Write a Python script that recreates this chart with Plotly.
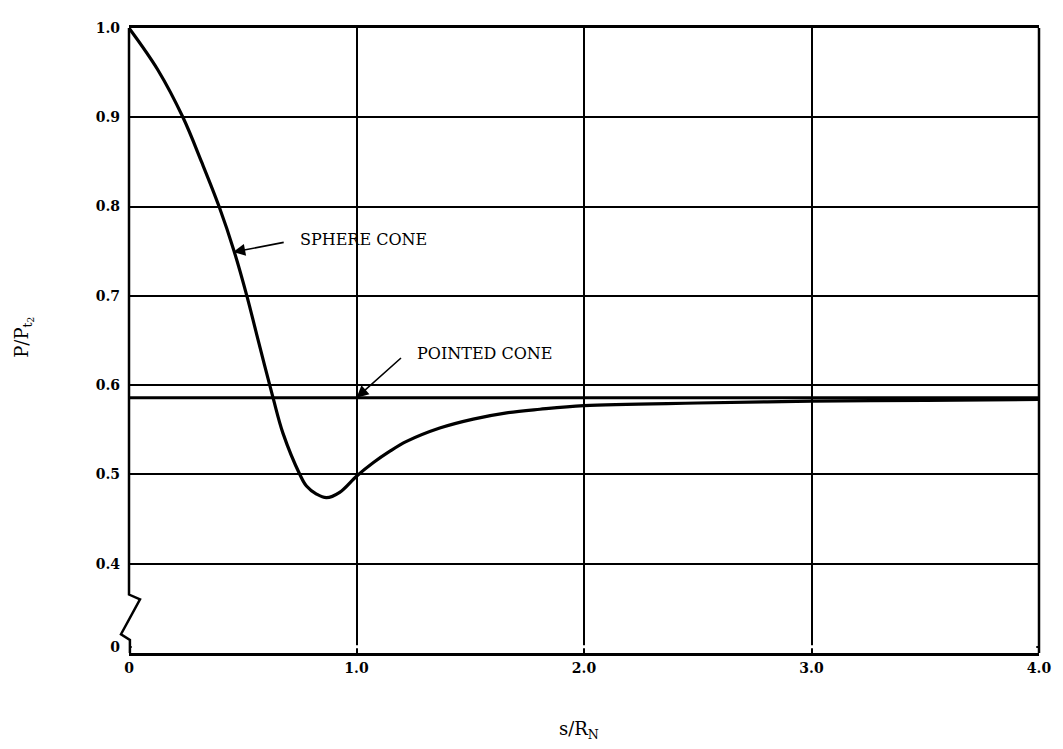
import plotly.graph_objects as go

# Sphere-cone surface pressure distribution
s_sphere = [0, 0.127, 0.237, 0.319, 0.396, 0.462, 0.518, 0.562, 0.633, 0.677,
            0.751, 0.78, 0.824, 0.868, 0.926, 1.0, 1.073, 1.147, 1.22, 1.366,
            1.513, 1.66, 1.806, 2.0, 2.5, 3.0, 3.5, 4.0]
p_sphere = [1.0, 0.953, 0.90, 0.85, 0.80, 0.75, 0.70, 0.656, 0.586, 0.546,
            0.50, 0.487, 0.478, 0.474, 0.480, 0.498, 0.513, 0.526, 0.537, 0.552,
            0.562, 0.569, 0.573, 0.577, 0.580, 0.582, 0.583, 0.584]

# Pointed cone: constant pressure ratio
s_pointed = [0, 4.0]
p_pointed = [0.586, 0.586]

x_tickvals = [0, 1, 2, 3, 4]
x_ticktext = ["0", "1.0", "2.0", "3.0", "4.0"]
y_tickvals = [0.307, 0.4, 0.5, 0.6, 0.7, 0.8, 0.9, 1.0]
y_ticktext = ["0", "0.4", "0.5", "0.6", "0.7", "0.8", "0.9", "1.0"]

FONT = "DejaVu Serif"

fig = go.Figure()
fig.add_trace(go.Scatter(x=s_pointed, y=p_pointed, mode="lines",
                         line=dict(color="black", width=3), showlegend=False))
fig.add_trace(go.Scatter(x=s_sphere, y=p_sphere, mode="lines",
                         line=dict(color="black", width=3.2, shape="spline", smoothing=1.0),
                         showlegend=False))

tickfont = dict(family=FONT, size=14, weight="bold")

fig.update_layout(
    width=1055, height=741,
    margin=dict(l=121, r=24, t=12, b=96),
    paper_bgcolor="white", plot_bgcolor="white",
    font=dict(family=FONT, size=15, color="black"),
    xaxis=dict(range=[0, 4], tickvals=x_tickvals, ticktext=x_ticktext,
               showgrid=True, gridcolor="black", gridwidth=1.6,
               zeroline=False, showline=True, linecolor="black", linewidth=2.5,
               mirror=True, ticks="", tickfont=tickfont),
    yaxis=dict(range=[0.3, 1.0], tickvals=y_tickvals, ticktext=y_ticktext,
               showgrid=True, gridcolor="black", gridwidth=1.6,
               zeroline=False, showline=False, ticks="", ticklabelstandoff=8,
               tickfont=tickfont),
)

# left axis with break symbol, and right frame line
fig.add_shape(type="path", xref="paper", yref="y",
              path="M 0,1.0 L 0,0.3655 L 0.0121,0.36 L -0.0088,0.321 L 0.001,0.3145 L 0.001,0.3",
              line=dict(color="black", width=2.5))
fig.add_shape(type="line", xref="paper", yref="y", x0=1, x1=1, y0=0.3, y1=1.0,
              line=dict(color="black", width=2.5))

# the "0" tick is a label only: cover its gridline
fig.add_shape(type="line", xref="paper", yref="y", x0=0.003, x1=0.997, y0=0.307, y1=0.307,
              line=dict(color="white", width=3))

# annotations with arrows
fig.add_annotation(x=0.458, y=0.749, ax=52, ay=-10, text="", showarrow=True,
                   arrowhead=2, arrowsize=1.5, arrowwidth=1.6, arrowcolor="black")
fig.add_annotation(x=0.743, y=0.763, text="SPHERE CONE", showarrow=False,
                   xanchor="left", yanchor="middle", font=dict(family=FONT, size=16))
fig.add_annotation(x=1.0, y=0.586, ax=46, ay=-41, text="", showarrow=True,
                   arrowhead=2, arrowsize=1.5, arrowwidth=1.6, arrowcolor="black")
fig.add_annotation(x=1.258, y=0.635, text="POINTED CONE", showarrow=False,
                   xanchor="left", yanchor="middle", font=dict(family=FONT, size=16))

# axis titles
fig.add_annotation(x=1.98, y=-0.145, xref="x", yref="paper", text="s/R<sub>N</sub>",
                   showarrow=False, font=dict(family=FONT, size=18))
fig.add_annotation(x=-0.132, y=0.505, xref="paper", yref="paper",
                   text="P/P<sub>t<sub>2</sub></sub>", textangle=-90, showarrow=False,
                   font=dict(family=FONT, size=18))

fig.write_html("out.html")
